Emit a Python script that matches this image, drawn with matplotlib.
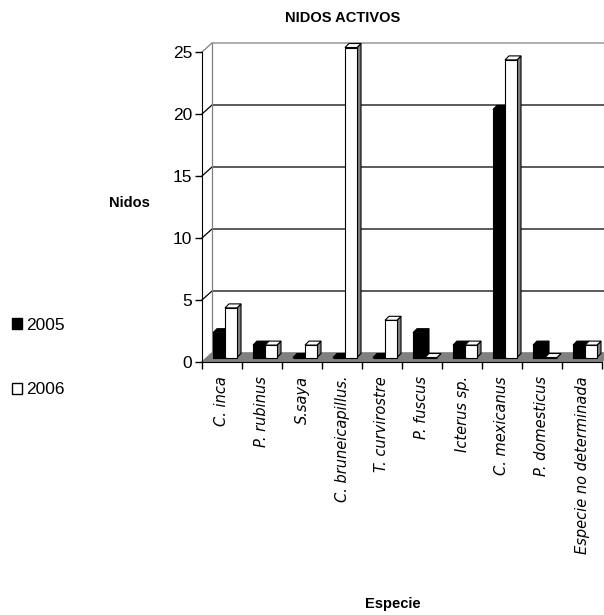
import matplotlib
matplotlib.use("Agg")
import matplotlib.pyplot as plt
from matplotlib.patches import Polygon, Patch

especies = ["C. inca", "P. rubinus", "S.saya", "C. bruneicapillus.", "T. curvirostre",
            "P. fuscus", "Icterus sp.", "C. mexicanus", "P. domesticus",
            "Especie no determinada"]
nidos_2005 = [2, 1, 0, 0, 0, 2, 1, 20, 1, 1]
nidos_2006 = [4, 1, 1, 25, 3, 0, 1, 24, 0, 1]
anios = ["2005", "2006"]
y_ticks = [0, 5, 10, 15, 20, 25]

plt.rcParams["font.family"] = ["Liberation Sans", "DejaVu Sans"]

fig = plt.figure(figsize=(6.04, 6.15), dpi=100)
ax = fig.add_axes([202 / 604, (615 - 362) / 615, 400 / 604, 310 / 615])
n = len(especies)
ax.set_xlim(0, n)
ax.set_ylim(0, 25)

# pixel sizes of one data unit, used to fake the 3D depth
p0 = ax.transData.transform((0, 0))
px_x = ax.transData.transform((1, 0))[0] - p0[0]
px_y = ax.transData.transform((0, 1))[1] - p0[1]

wx, wy = 10 / px_x, 9 / px_y      # depth of floor / walls
mx, my = wx / 2, wy / 2           # bars stand half way in
bx, by = 4 / px_x, 4 / px_y       # depth of each bar
gris = "#808080"

# floor
ax.add_patch(Polygon([(0, 0), (n, 0), (n + wx, wy), (wx, wy)], closed=True,
                     facecolor=gris, edgecolor=gris, lw=0.8, zorder=1, clip_on=False))

# back wall + side wall gridlines
for t in y_ticks:
    c = gris if t in (0, 25) else "black"
    ax.plot([0, wx, n + wx], [t, t + wy, t + wy], color=c, lw=0.9,
            zorder=0.5, clip_on=False)
ax.plot([wx, wx], [wy, 25 + wy], color=gris, lw=0.9, zorder=0.6, clip_on=False)

# bars
ancho = 0.3
x_neg = [i + 0.15 + mx for i in range(n)]
x_bla = [i + 0.45 + mx for i in range(n)]
b05 = ax.bar(x_neg, nidos_2005, ancho, bottom=my, align="edge",
             color="black", edgecolor="black", lw=0.8, clip_on=False)
b06 = ax.bar(x_bla, nidos_2006, ancho, bottom=my, align="edge",
             color="white", edgecolor="black", lw=0.8, clip_on=False)

z = 2
for r05, r06 in zip(b05, b06):
    for r, cara, lado in ((r05, "black", "black"), (r06, "white", gris)):
        x0, y0 = r.get_x(), r.get_y()
        x1, y1 = x0 + r.get_width(), y0 + r.get_height()
        ax.add_patch(Polygon([(x1, y0), (x1 + bx, y0 + by), (x1 + bx, y1 + by), (x1, y1)],
                             closed=True, facecolor=lado, edgecolor="black", lw=0.8,
                             zorder=z, clip_on=False))
        ax.add_patch(Polygon([(x0, y1), (x1, y1), (x1 + bx, y1 + by), (x0 + bx, y1 + by)],
                             closed=True, facecolor=cara, edgecolor="black", lw=0.8,
                             zorder=z, clip_on=False))
        r.set_zorder(z + 0.5)
        z += 1

# axes
for s in ("top", "right"):
    ax.spines[s].set_visible(False)
ax.spines["left"].set_zorder(100)
ax.spines["bottom"].set_zorder(100)
ax.set_yticks(y_ticks)
ax.tick_params(axis="y", direction="out", length=5, width=1, labelsize=12.5, pad=2)
ax.set_xticks(range(n + 1))
ax.set_xticklabels([])
ax.tick_params(axis="x", which="major", direction="out", length=5, width=1)
ax.set_xticks([i + 0.5 for i in range(n)], minor=True)
ax.set_xticklabels(especies, minor=True, rotation=90, fontstyle="italic",
                   fontsize=10.5, fontfamily="DejaVu Sans")
ax.tick_params(axis="x", which="minor", length=0, pad=10)

fig.text(343 / 604, 1 - 18 / 615, "NIDOS ACTIVOS", ha="center", va="center",
         fontsize=10.5, fontweight="bold")
fig.text(129 / 604, 1 - 203 / 615, "Nidos", ha="center", va="center",
         fontsize=10.5, fontweight="bold")
fig.text(393 / 604, 1 - 604 / 615, "Especie", ha="center", va="center",
         fontsize=10.5, fontweight="bold")

handles = [Patch(facecolor="black", edgecolor="black"),
           Patch(facecolor="white", edgecolor="black")]
fig.legend(handles, anios, loc="center left", bbox_to_anchor=(12 / 604, 1 - 357.5 / 615),
           frameon=False, fontsize=12.5, handlelength=0.6, handleheight=0.6,
           handletextpad=0.2, labelspacing=2.85, borderpad=0, borderaxespad=0)

fig.savefig("out.png", dpi=100)
